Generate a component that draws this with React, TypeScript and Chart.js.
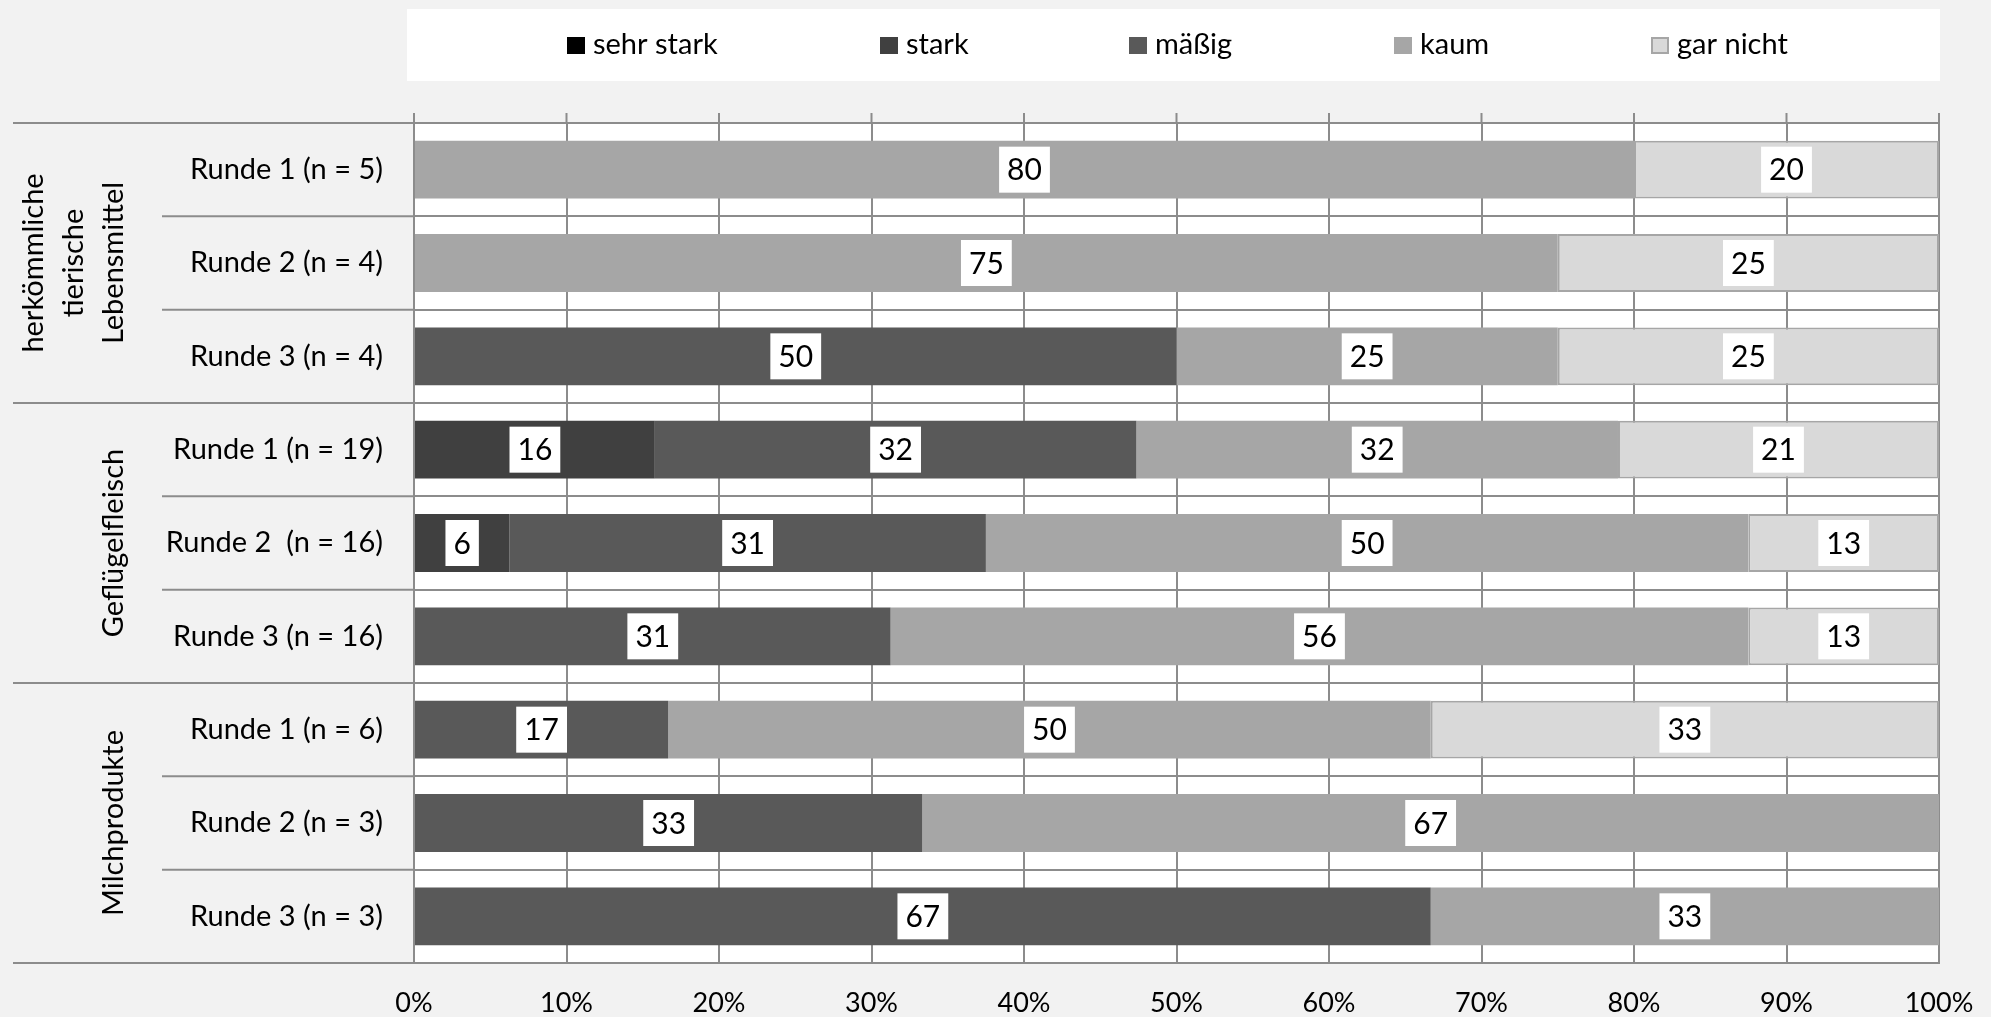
import React, { useEffect, useRef } from "react";
import { Chart, registerables } from "chart.js";

Chart.register(...registerables);

// ---------- data ----------
const categories = [
  "Runde 1 (n = 5)",
  "Runde 2 (n = 4)",
  "Runde 3 (n = 4)",
  "Runde 1 (n = 19)",
  "Runde 2  (n = 16)",
  "Runde 3 (n = 16)",
  "Runde 1 (n = 6)",
  "Runde 2 (n = 3)",
  "Runde 3 (n = 3)",
];
const groupLabels = [["herkömmliche", "tierische", "Lebensmittel"], ["Geflügelfleisch"], ["Milchprodukte"]];
const groupSizes = [3, 3, 3];

const seriesNames = ["sehr stark", "stark", "mäßig", "kaum", "gar nicht"];
const sehrStark = [0, 0, 0, 0, 0, 0, 0, 0, 0];
const stark = [0, 0, 0, 15.79, 6.25, 0, 0, 0, 0];
const maessig = [0, 0, 50, 31.58, 31.25, 31.25, 16.67, 33.33, 66.67];
const kaum = [80, 75, 25, 31.58, 50, 56.25, 50, 66.67, 33.33];
const garNicht = [20, 25, 25, 21.05, 12.5, 12.5, 33.33, 0, 0];
const xTicks = [0, 10, 20, 30, 40, 50, 60, 70, 80, 90, 100];

// ---------- styles ----------
const FONT = "Lato, 'Open Sans', sans-serif";
const fillColors = ["#000000", "#404040", "#595959", "#a6a6a6", "#d9d9d9"];
const borderColors = ["#000000", "#404040", "#595959", "#a6a6a6", "#a6a6a6"];
const borderWidths = [0, 0, 0, 0, 2];
const GRID = "#8c8c8c";
const legendItemX = [567, 880, 1129, 1394, 1651];
const legendBox = { left: 407, top: 9, right: 1940, bottom: 81 };

const W = 1991;
const H = 1017;

function boundaries(chart: any): number[] {
  const ys = chart.scales.y;
  const area = chart.chartArea;
  const n = categories.length;
  const res: number[] = [area.top];
  for (let i = 1; i < n; i++) {
    res.push((ys.getPixelForValue(i - 1) + ys.getPixelForValue(i)) / 2);
  }
  res.push(area.bottom);
  return res;
}

const decorPlugin = {
  id: "decor",
  beforeDraw(chart: any) {
    const ctx = chart.ctx;
    const a = chart.chartArea;
    ctx.save();
    ctx.fillStyle = "#f2f2f2";
    ctx.fillRect(0, 0, chart.width, chart.height);
    ctx.fillStyle = "#ffffff";
    ctx.fillRect(a.left, a.top, a.right - a.left, a.bottom - a.top);
    // legend box
    ctx.fillRect(legendBox.left, legendBox.top, legendBox.right - legendBox.left, legendBox.bottom - legendBox.top);
    ctx.restore();
  },
  afterDraw(chart: any) {
    const ctx = chart.ctx;
    const a = chart.chartArea;
    const xs = chart.scales.x;
    const b = boundaries(chart);
    ctx.save();
    ctx.strokeStyle = GRID;
    ctx.lineWidth = 2;
    // separators on left label area
    const groupEdges = new Set<number>();
    let acc = 0;
    groupEdges.add(0);
    groupSizes.forEach((s) => {
      acc += s;
      groupEdges.add(acc);
    });
    b.forEach((y, i) => {
      const x0 = groupEdges.has(i) ? 13 : 162;
      ctx.beginPath();
      ctx.moveTo(x0, y);
      ctx.lineTo(a.left, y);
      ctx.stroke();
    });
    // top tick marks
    xTicks.forEach((v) => {
      const x = xs.getPixelForValue(v);
      ctx.beginPath();
      ctx.moveTo(x, a.top - 10);
      ctx.lineTo(x, a.top);
      ctx.stroke();
    });
    // group labels
    ctx.fillStyle = "#000";
    ctx.font = `29px ${FONT}`;
    ctx.textAlign = "center";
    ctx.textBaseline = "middle";
    let start = 0;
    groupLabels.forEach((lines, g) => {
      const y0 = b[start];
      const y1 = b[start + groupSizes[g]];
      const cy = (y0 + y1) / 2;
      lines.forEach((line, k) => {
        const cx = 114 - (lines.length - 1 - k) * 40;
        ctx.save();
        ctx.translate(cx, cy);
        ctx.rotate(-Math.PI / 2);
        ctx.fillText(line, 0, 0);
        ctx.restore();
      });
      start += groupSizes[g];
    });
    // legend
    ctx.textAlign = "left";
    ctx.font = `29px ${FONT}`;
    chart.data.datasets.forEach((ds: any, i: number) => {
      const x = legendItemX[i];
      ctx.fillStyle = ds.backgroundColor;
      ctx.fillRect(x, 37, 18, 17);
      if (ds.borderWidth) {
        ctx.strokeStyle = ds.borderColor;
        ctx.lineWidth = 2;
        ctx.strokeRect(x + 1, 38, 16, 15);
      }
      ctx.fillStyle = "#000";
      ctx.fillText(ds.label, x + 26, 45);
    });
    ctx.restore();
  },
  afterDatasetsDraw(chart: any) {
    const ctx = chart.ctx;
    ctx.save();
    ctx.font = `30px ${FONT}`;
    ctx.textAlign = "center";
    ctx.textBaseline = "middle";
    chart.data.datasets.forEach((ds: any, i: number) => {
      const meta = chart.getDatasetMeta(i);
      meta.data.forEach((el: any, j: number) => {
        const v = ds.data[j];
        if (!v || v <= 0) return;
        const p = el.getProps(["x", "y", "base"], true);
        const cx = (p.x + p.base) / 2;
        const txt = String(Math.round(v));
        const tw = ctx.measureText(txt).width;
        const bw = tw + 16;
        const bh = 46;
        ctx.fillStyle = "#ffffff";
        ctx.fillRect(cx - bw / 2, p.y - bh / 2, bw, bh);
        ctx.fillStyle = "#000";
        ctx.fillText(txt, cx, p.y + 1);
      });
    });
    ctx.restore();
  },
};

export default function App() {
  const ref = useRef<HTMLCanvasElement | null>(null);
  useEffect(() => {
    document.body.style.margin = "0";
    document.body.style.background = "#f2f2f2";
    const values = [sehrStark, stark, maessig, kaum, garNicht];
    const chart = new Chart(ref.current as HTMLCanvasElement, {
      type: "bar",
      data: {
        labels: categories,
        datasets: seriesNames.map((name, i) => ({
          label: name,
          data: values[i],
          backgroundColor: fillColors[i],
          borderColor: borderColors[i],
          borderWidth: borderWidths[i],
          borderSkipped: false,
          barPercentage: 0.62,
          categoryPercentage: 1,
        })),
      },
      options: {
        indexAxis: "y",
        animation: false,
        responsive: false,
        devicePixelRatio: 1,
        layout: { padding: { top: 123, right: 52, left: 0, bottom: 0 } },
        plugins: {
          legend: { display: false },
          tooltip: { enabled: false },
        },
        scales: {
          x: {
            stacked: true,
            min: 0,
            max: 100,
            afterBuildTicks: (scale: any) => {
              scale.ticks = xTicks.map((v) => ({ value: v }));
            },
            afterFit: (scale: any) => {
              scale.height = 54;
              scale.paddingLeft = 0;
              scale.paddingRight = 0;
            },
            grid: { color: GRID, lineWidth: 2, drawTicks: false },
            border: { color: GRID, width: 2 },
            ticks: {
              padding: 24,
              color: "#000",
              font: { family: FONT, size: 27 },
              callback: (v: any) => `${v}%`,
              maxRotation: 0,
            },
          },
          y: {
            stacked: true,
            afterFit: (scale: any) => {
              scale.width = 414;
              scale.paddingTop = 0;
              scale.paddingBottom = 0;
            },
            grid: { color: GRID, lineWidth: 2, drawTicks: false },
            border: { color: GRID, width: 2 },
            ticks: {
              padding: 31,
              color: "#000",
              font: { family: FONT, size: 29 },
            },
          },
        },
      },
      plugins: [decorPlugin],
    } as any);
    return () => chart.destroy();
  }, []);
  return (
    <div style={{ width: W, height: H }}>
      <canvas ref={ref} width={W} height={H} style={{ display: "block" }} />
    </div>
  );
}
